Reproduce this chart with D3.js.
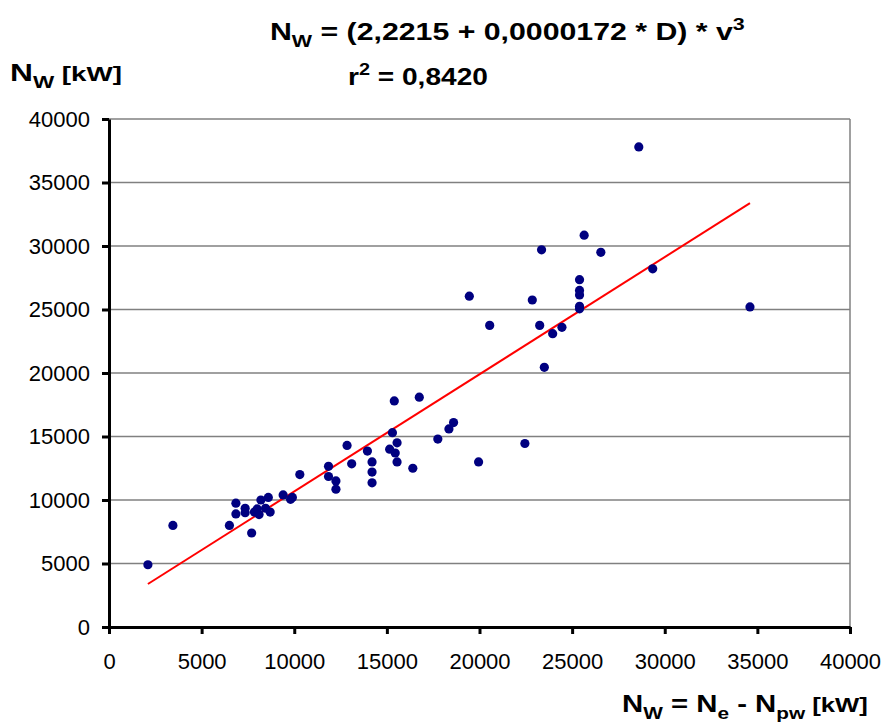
<!DOCTYPE html>
<html>
<head>
<meta charset="utf-8">
<script src="https://cdn.jsdelivr.net/npm/d3@7"></script>
<style>
  body { margin: 0; background: #fff; }
  svg { font-family: "Liberation Sans", Arial, sans-serif; }
</style>
</head>
<body>
<div id="chart"></div>
<script>
// measured points  (Ne - Npw  vs  Nw), kW
var xVals = [2100, 3450, 6500, 6850, 6850, 7350, 7350, 7700, 7850, 8000,
             8100, 8200, 8450, 8600, 8700, 9400, 9800, 9900, 10300, 11850,
             11850, 12250, 12250, 12850, 13100, 13950, 14200, 14200, 14200, 15150,
             15450, 15300, 15550, 15550, 15400, 16750, 16400, 17750, 18350, 18600,
             19950, 19450, 20550, 22850, 23350, 23250, 23950, 24450, 23500, 25650,
             26550, 25400, 25400, 25400, 25400, 25400, 28600, 29350, 34600, 22450];
var yVals = [4900, 8000, 8000, 9750, 8900, 9350, 9000, 7400, 9050, 9300,
             8850, 10000, 9350, 10200, 9050, 10400, 10050, 10200, 12000, 12650,
             11850, 11500, 10850, 14300, 12850, 13850, 13000, 12200, 11350, 14000,
             13700, 15300, 14500, 13000, 17800, 18100, 12500, 14800, 15600, 16100,
             13000, 26050, 23750, 25750, 29700, 23750, 23100, 23600, 20450, 30850,
             29500, 27350, 26500, 26150, 25250, 25050, 37800, 28200, 25200, 14450];

// linear trend line
var trendIntercept = 1448;
var trendSlope = 0.9227;

var xTicks = [0, 5000, 10000, 15000, 20000, 25000, 30000, 35000, 40000];
var yTicks = [0, 5000, 10000, 15000, 20000, 25000, 30000, 35000, 40000];

var width = 886, height = 722;

var svg = d3.select("#chart").append("svg")
    .attr("width", width)
    .attr("height", height);

var x = d3.scaleLinear().domain([0, 40000]).range([109, 850]);
var y = d3.scaleLinear().domain([0, 40000]).range([627, 119]);

// gridlines
svg.append("g").attr("class", "grid")
  .selectAll("line")
  .data(yTicks.slice(1)).enter()
  .append("line")
  .attr("x1", x(0)).attr("x2", x(40000))
  .attr("y1", function(d) {return y(d);})
  .attr("y2", function(d) {return y(d);})
  .style("stroke", "#808080")
  .style("stroke-width", 1.5);

// right border
svg.append("line")
  .attr("x1", x(40000)).attr("x2", x(40000))
  .attr("y1", y(40000)).attr("y2", y(0))
  .style("stroke", "#808080")
  .style("stroke-width", 1.5);

// trend line
var xMin = d3.min(xVals), xMax = d3.max(xVals);
svg.append("line")
  .attr("x1", x(xMin)).attr("y1", y(trendIntercept + trendSlope*xMin))
  .attr("x2", x(xMax)).attr("y2", y(trendIntercept + trendSlope*xMax))
  .style("stroke", "#ff0000")
  .style("stroke-width", 2);

// points
svg.append("g")
  .selectAll("circle")
  .data(xVals).enter()
  .append("circle")
  .attr("cx", function(d) {return x(d);})
  .attr("cy", function(d, i) {return y(yVals[i]);})
  .attr("r", 4.6)
  .style("fill", "#000080");

// axes
var yAxis = svg.append("g")
  .attr("transform", "translate(" + x(0) + ",0)")
  .call(d3.axisLeft(y).tickValues(yTicks).tickFormat(d3.format("d"))
        .tickSize(7).tickSizeOuter(0).tickPadding(12));

var xAxis = svg.append("g")
  .attr("transform", "translate(0," + y(0) + ")")
  .call(d3.axisBottom(x).tickValues(xTicks).tickFormat(d3.format("d"))
        .tickSize(7).tickSizeOuter(0).tickPadding(19));

[xAxis, yAxis].forEach(function(ax) {
  ax.select(".domain").style("stroke", "#000").style("stroke-width", 3);
  ax.selectAll(".tick line").style("stroke", "#000").style("stroke-width", 3);
  ax.selectAll(".tick text")
    .style("font-family", "'Liberation Sans', Arial, sans-serif")
    .style("font-size", "22px")
    .style("fill", "#000");
});

// squeeze a text to a given width (glyphs in the picture are narrow)
function fitWidth(sel, targetW, anchorX) {
  var w = sel.node().getComputedTextLength();
  var k = targetW / w;
  sel.attr("transform", "translate(" + anchorX + ",0) scale(" + k + ",1) translate(" + (-anchorX) + ",0)");
}

// title
var title = svg.append("text")
  .attr("x", 270).attr("y", 40)
  .style("font-weight", "bold")
  .style("font-size", "24px");
title.append("tspan").text("N");
title.append("tspan").attr("dy", 7).style("font-size", "17px").text("W");
title.append("tspan").attr("dy", -7).text(" = (2,2215 + 0,0000172 * D) * v");
title.append("tspan").attr("dy", -10).style("font-size", "17px").text("3");
fitWidth(title, 475, 270);

var r2 = svg.append("text")
  .attr("x", 348).attr("y", 85)
  .style("font-weight", "bold")
  .style("font-size", "24px");
r2.append("tspan").text("r");
r2.append("tspan").attr("dy", -10).style("font-size", "17px").text("2");
r2.append("tspan").attr("dy", 10).text(" = 0,8420");
fitWidth(r2, 140, 348);

// y axis label
var yLab = svg.append("text")
  .attr("x", 10).attr("y", 81)
  .style("font-weight", "bold")
  .style("font-size", "24px");
yLab.append("tspan").text("N");
yLab.append("tspan").attr("dy", 7).style("font-size", "17px").text("W");
yLab.append("tspan").attr("dy", -7).style("font-size", "21px").text("  [kW]");
fitWidth(yLab, 112, 10);

// x axis label
var xLab = svg.append("text")
  .attr("x", 622).attr("y", 712)
  .style("font-weight", "bold")
  .style("font-size", "24px");
xLab.append("tspan").text("N");
xLab.append("tspan").attr("dy", 7).style("font-size", "17px").text("W");
xLab.append("tspan").attr("dy", -7).text(" = N");
xLab.append("tspan").attr("dy", 7).style("font-size", "17px").text("e");
xLab.append("tspan").attr("dy", -7).text(" - N");
xLab.append("tspan").attr("dy", 7).style("font-size", "17px").text("pw");
xLab.append("tspan").attr("dy", -7).style("font-size", "21px").text("  [kW]");
fitWidth(xLab, 246, 622);
</script>
</body>
</html>
